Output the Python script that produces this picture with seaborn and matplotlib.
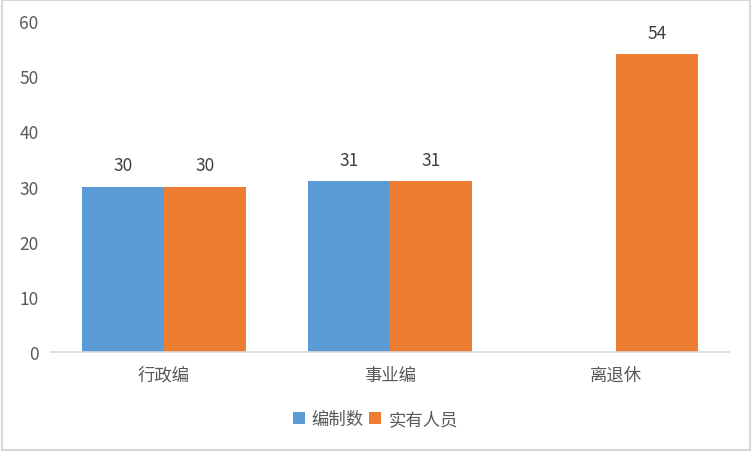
import pandas as pd
import numpy as np
import matplotlib.pyplot as plt
import seaborn as sns
from matplotlib.patches import Rectangle

sns.set_style("white")
plt.rcParams['font.family'] = ['Noto Sans CJK SC', 'DejaVu Sans']

categories = ['行政编', '事业编', '离退休']
series = ['编制数', '实有人员']
quota = [30, 31, np.nan]
actual = [30, 31, 54]
colors = ['#5B9BD5', '#ED7D31']

df = pd.DataFrame({
    '类别': categories * 2,
    '系列': [series[0]] * 3 + [series[1]] * 3,
    '人数': quota + actual,
})

fig = plt.figure(figsize=(7.52, 4.52), dpi=100)
ax = fig.add_axes([0.068, 0.219, 0.901, 0.732])

sns.barplot(data=df, x='类别', y='人数', hue='系列', order=categories,
            hue_order=series, palette=colors, width=0.726, gap=0,
            saturation=1, linewidth=0, ax=ax, legend=True)

for c in ax.containers:
    labels = ['' if np.isnan(v) else f'{v:.0f}' for v in c.datavalues]
    ax.bar_label(c, labels=labels, padding=9, fontsize=12.5, color='#404040')

ax.set_ylim(0, 60)
ax.set_yticks(range(0, 61, 10))
ax.set_xlim(-0.5, 2.5)
ax.set_xlabel('')
ax.set_ylabel('')
for s in ['top', 'right', 'left']:
    ax.spines[s].set_visible(False)
ax.spines['bottom'].set_color('#D9D9D9')
ax.spines['bottom'].set_linewidth(1.2)
ax.tick_params(axis='both', length=0, labelsize=12.5, colors='#595959')
ax.tick_params(axis='y', pad=9)
ax.tick_params(axis='x', pad=10)

ax.legend(loc='center', bbox_to_anchor=(0.499, 0.071), bbox_transform=fig.transFigure,
          ncol=2, frameon=False, fontsize=12.5, handlelength=0.7, handleheight=0.7,
          handletextpad=0.4, columnspacing=0.3, labelcolor='#595959')

fig.patches.append(Rectangle((0.002, 0.003), 0.995, 0.994, transform=fig.transFigure,
                             fill=False, edgecolor='#D9D9D9', linewidth=1.5))

plt.savefig('out.png', dpi=100)
